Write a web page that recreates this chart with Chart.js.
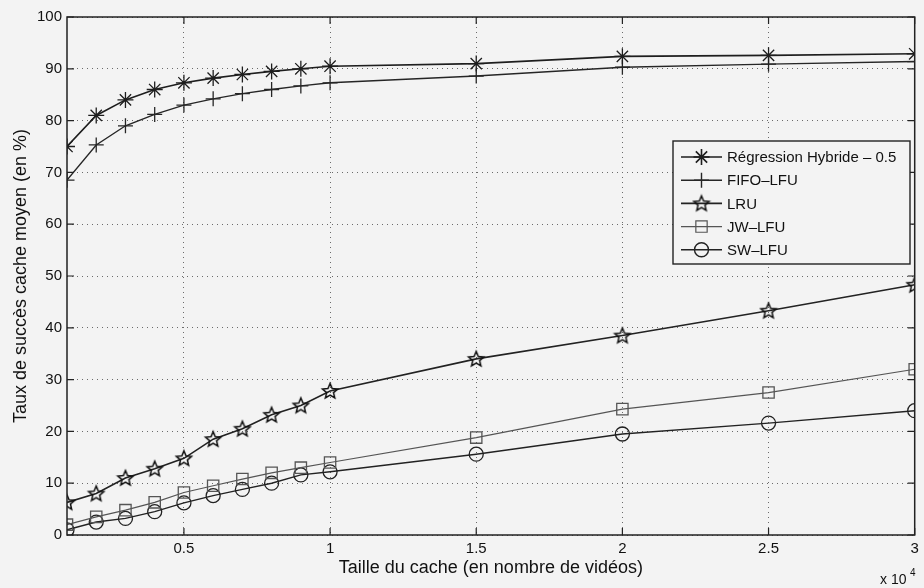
<!DOCTYPE html>
<html>
<head>
<meta charset="utf-8">
<script src="https://cdn.jsdelivr.net/npm/chart.js@4/dist/chart.umd.min.js"></script>
<style>
  html, body { margin: 0; padding: 0; background: #f3f3f3; }
  #wrap { width: 924px; height: 588px; }
</style>
</head>
<body>
<div id="wrap"><canvas id="chart" width="924" height="588"></canvas></div>
<script>
// taille du cache (nombre de vidéos)
const cacheSizes = [1000, 2000, 3000, 4000, 5000, 6000, 7000, 8000, 9000, 10000, 15000, 20000, 25000, 30000];
const xTickValues = [5000, 10000, 15000, 20000, 25000, 30000];
const yTickValues = [0, 10, 20, 30, 40, 50, 60, 70, 80, 90, 100];

const seriesNames = ['Régression Hybride – 0.5', 'FIFO–LFU', 'LRU', 'JW–LFU', 'SW–LFU'];
const hybride = [75, 81, 84, 86, 87.3, 88.2, 88.9, 89.5, 90, 90.5, 91, 92.4, 92.6, 92.9];
const fifoLfu = [68.5, 75.3, 79, 81.2, 83, 84.2, 85.2, 86, 86.7, 87.3, 88.6, 90.3, 90.9, 91.4];
const lru = [6.3, 8, 11, 12.8, 14.8, 18.5, 20.5, 23.2, 25, 27.8, 34, 38.5, 43.3, 48.3];
const jwLfu = [2, 3.5, 4.8, 6.3, 8.2, 9.5, 10.8, 12, 13, 14, 18.8, 24.3, 27.5, 32];
const swLfu = [1, 2.5, 3.2, 4.5, 6.2, 7.6, 8.8, 10, 11.6, 12.2, 15.6, 19.5, 21.6, 24];

const FONT = '"Liberation Sans", Arial, Helvetica, sans-serif';

// étoile à 5 branches (pas dispo dans chart.js)
function makePentagram(r, color) {
  const c = document.createElement('canvas');
  const size = Math.ceil(r * 2 + 4);
  c.width = size;
  c.height = size;
  const ctx = c.getContext('2d');
  const cx = size / 2;
  const cy = size / 2 + 0.5;
  ctx.beginPath();
  for (let i = 0; i < 10; i++) {
    const rr = i % 2 === 0 ? r : r * 0.45;
    const a = -Math.PI / 2 + (i * Math.PI) / 5;
    const px = cx + rr * Math.cos(a);
    const py = cy + rr * Math.sin(a);
    if (i === 0) ctx.moveTo(px, py); else ctx.lineTo(px, py);
  }
  ctx.closePath();
  ctx.strokeStyle = color;
  ctx.lineWidth = 1.5;
  ctx.stroke();
  return c;
}
const starImg = makePentagram(8, '#111');

function toPoints(arr) {
  return arr.map((v, i) => ({ x: cacheSizes[i], y: v }));
}

function makeDataset(label, arr, color, style, radius, width) {
  return {
    label,
    data: toPoints(arr),
    borderColor: color,
    backgroundColor: 'rgba(0,0,0,0)',
    borderWidth: width,
    pointStyle: style,
    pointRadius: radius,
    pointHoverRadius: radius,
    pointBorderColor: color,
    pointBorderWidth: 1.3,
    pointBackgroundColor: 'rgba(0,0,0,0)',
    tension: 0,
    fill: false,
  };
}

const datasets = [
  makeDataset(seriesNames[0], hybride, '#1e1e1e', 'star', 8, 1.6),
  makeDataset(seriesNames[1], fifoLfu, '#262626', 'cross', 7.5, 1.4),
  makeDataset(seriesNames[2], lru, '#222222', starImg, 8, 1.6),
  makeDataset(seriesNames[3], jwLfu, '#555555', 'rect', 8, 1.2),
  makeDataset(seriesNames[4], swLfu, '#222222', 'circle', 7, 1.4),
];

// cadre, petites graduations vers l'intérieur, légende et "x 10^4"
const decorPlugin = {
  id: 'decor',
  beforeDraw(chart) {
    const { ctx } = chart;
    ctx.save();
    ctx.fillStyle = '#f3f3f3';
    ctx.fillRect(0, 0, chart.width, chart.height);
    ctx.restore();
  },
  afterDraw(chart) {
    const { ctx, chartArea: a, scales } = chart;
    ctx.save();
    ctx.strokeStyle = '#222';
    ctx.lineWidth = 1.5;
    ctx.strokeRect(a.left, a.top, a.right - a.left, a.bottom - a.top);

    ctx.lineWidth = 1.2;
    ctx.beginPath();
    xTickValues.forEach((v) => {
      const px = scales.x.getPixelForValue(v);
      ctx.moveTo(px, a.bottom); ctx.lineTo(px, a.bottom - 7);
      ctx.moveTo(px, a.top); ctx.lineTo(px, a.top + 7);
    });
    yTickValues.forEach((v) => {
      const py = scales.y.getPixelForValue(v);
      ctx.moveTo(a.left, py); ctx.lineTo(a.left + 7, py);
      ctx.moveTo(a.right, py); ctx.lineTo(a.right - 7, py);
    });
    ctx.stroke();

    // légende
    const lx = 673;
    const ly = 141;
    const lw = 237;
    const lh = 123;
    ctx.fillStyle = '#f3f3f3';
    ctx.fillRect(lx, ly, lw, lh);
    ctx.strokeStyle = '#222';
    ctx.lineWidth = 1.4;
    ctx.strokeRect(lx, ly, lw, lh);
    ctx.font = '15px ' + FONT;
    ctx.textBaseline = 'middle';
    ctx.textAlign = 'left';
    chart.data.datasets.forEach((ds, i) => {
      const yy = ly + 16 + i * 23.2;
      ctx.strokeStyle = ds.borderColor;
      ctx.lineWidth = ds.borderWidth;
      ctx.beginPath();
      ctx.moveTo(lx + 8, yy);
      ctx.lineTo(lx + 49, yy);
      ctx.stroke();
      Chart.helpers.drawPoint(ctx, {
        pointStyle: ds.pointStyle,
        radius: ds.pointRadius,
        borderWidth: ds.pointBorderWidth,
        rotation: 0,
      }, lx + 28.5, yy);
      ctx.fillStyle = '#111';
      ctx.fillText(ds.label, lx + 54, yy + 1);
    });

    // facteur d'échelle de l'axe x
    ctx.fillStyle = '#111';
    ctx.font = '14px ' + FONT;
    ctx.textAlign = 'left';
    ctx.textBaseline = 'alphabetic';
    ctx.fillText('x 10', 880, 584);
    ctx.font = '10px ' + FONT;
    ctx.fillText('4', 910, 576);
    ctx.restore();
  },
};

// couleurs transparentes pour les marqueurs de la légende
const origDrawPoint = Chart.helpers.drawPoint;
Chart.helpers.drawPoint = function (ctx, opts, x, y) {
  ctx.fillStyle = 'rgba(0,0,0,0)';
  return origDrawPoint(ctx, opts, x, y);
};

const gridOpts = {
  color: '#6a6a6a',
  lineWidth: 1,
  drawTicks: false,
};

new Chart(document.getElementById('chart'), {
  type: 'line',
  data: { datasets },
  plugins: [decorPlugin],
  options: {
    responsive: false,
    animation: false,
    layout: { padding: { top: 17, right: 4, left: 0, bottom: 0 } },
    plugins: {
      legend: { display: false },
      tooltip: { enabled: false },
    },
    scales: {
      x: {
        type: 'linear',
        min: 1000,
        max: 30000,
        afterBuildTicks(scale) {
          scale.ticks = xTickValues.map((v) => ({ value: v }));
        },
        afterFit(scale) {
          scale.height = 53;
        },
        border: { display: false, dash: [1, 4] },
        grid: gridOpts,
        ticks: {
          color: '#111',
          font: { family: FONT, size: 15 },
          padding: 5,
          maxRotation: 0,
          callback: (v) => String(v / 10000),
        },
        title: {
          display: true,
          text: 'Taille du cache (en nombre de vidéos)',
          color: '#111',
          font: { family: FONT, size: 18 },
          padding: { top: 0, bottom: 9 },
        },
      },
      y: {
        min: 0,
        max: 100,
        afterBuildTicks(scale) {
          scale.ticks = yTickValues.map((v) => ({ value: v }));
        },
        afterFit(scale) {
          scale.width = 67;
        },
        border: { display: false, dash: [1, 4] },
        grid: gridOpts,
        ticks: {
          color: '#111',
          font: { family: FONT, size: 15 },
          padding: 5,
        },
        title: {
          display: true,
          text: 'Taux de succès cache moyen (en %)',
          color: '#111',
          font: { family: FONT, size: 18 },
          padding: { top: 10, bottom: 0 },
        },
      },
    },
  },
});
</script>
</body>
</html>
